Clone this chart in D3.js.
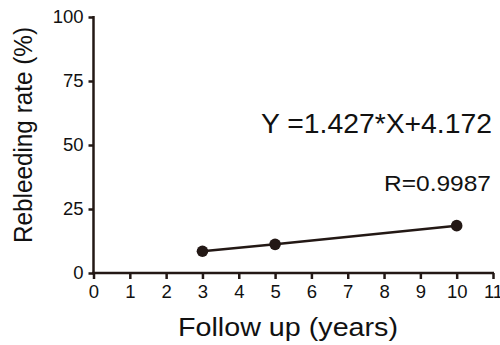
<!DOCTYPE html>
<html><head><meta charset="utf-8">
<script src="https://cdn.jsdelivr.net/npm/d3@7"></script>
<style>body{margin:0;background:#fff}svg{display:block}</style>
</head><body>
<svg id="c" width="500" height="345"></svg>
<script>
const years = [3, 5, 10];
const rates = [8.5, 11.2, 18.5];
const xTicks = [0,1,2,3,4,5,6,7,8,9,10,11];
const yTicks = [0,25,50,75,100];
const equation = "Y =1.427*X+4.172";
const rText = "R=0.9987";

const col = "#231815";
const svg = d3.select("#c");
const x = d3.scaleLinear().domain([0,11]).range([93.5,493]);
const y = d3.scaleLinear().domain([0,100]).range([273,17]);
const font = "Liberation Sans, Arial, sans-serif";

const gx = svg.append("g").attr("transform","translate(0,273)")
  .call(d3.axisBottom(x).tickValues(xTicks).tickSize(6).tickPadding(6).tickSizeOuter(0));
const gy = svg.append("g").attr("transform","translate(93.5,0)")
  .call(d3.axisLeft(y).tickValues(yTicks).tickSize(5).tickPadding(5).tickSizeOuter(0));
[gx,gy].forEach(g=>{
  g.selectAll("path,line").attr("stroke",col).attr("stroke-width",2.5);
  g.selectAll("text").attr("fill","#111").style("font-family",font).style("font-size","18.5px");
});
gy.select(".domain").attr("d","M0,"+(y(100)-1)+"V"+(y(0)+1.25));
gx.select(".domain").attr("d","M"+(x(0)-1.25)+",0H"+(x(11)+1));

const pts = years.map((d,i)=>[d,rates[i]]);
svg.append("path").datum(pts)
  .attr("d", d3.line().x(d=>x(d[0])).y(d=>y(d[1])))
  .attr("fill","none").attr("stroke",col).attr("stroke-width",2.5);
svg.selectAll("circle.p").data(pts).enter().append("circle")
  .attr("cx",d=>x(d[0])).attr("cy",d=>y(d[1])).attr("r",5.8).attr("fill",col);

function txt(xp, yp, anchor, size, len, s, rot){
  const t = svg.append("text").attr("text-anchor",anchor)
    .style("font-family",font).style("font-size",size+"px").attr("fill","#111")
    .attr("textLength",len).attr("lengthAdjust","spacingAndGlyphs").text(s);
  if(rot) t.attr("transform","translate("+xp+","+yp+") rotate(-90)");
  else t.attr("x",xp).attr("y",yp);
  return t;
}
txt(261, 133, "start", 28, 231, equation);
txt(384, 191, "start", 22.5, 107, rText);
txt(178, 336, "start", 25, 220, "Follow up (years)");
txt(32, 243, "start", 25, 216, "Rebleeding rate (%)", true);
</script>
</body></html>
